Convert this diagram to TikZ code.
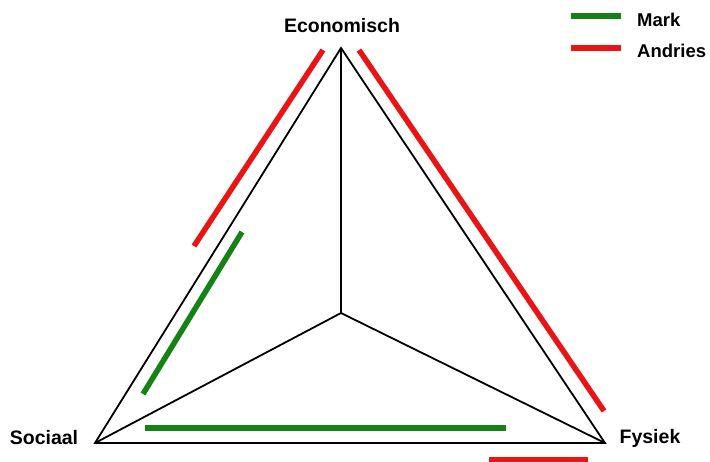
\documentclass[tikz,border=0pt]{standalone}
\usepackage{fontspec}
\setmainfont{Liberation Sans}
\definecolor{verde}{RGB}{20,130,20}
\definecolor{rojo}{RGB}{235,20,20}
\usepackage{tikz}
\usetikzlibrary{positioning}

\begin{document}
\begin{tikzpicture}[
  x=1pt, y=-1pt,
  every node/.style={font=\bfseries\fontsize{19.5}{23}\selectfont, inner sep=0pt},
  lado/.style={draw=black, line width=1.8pt},
  marca/.style={line width=5.5pt},
  leyenda/.style={font=\bfseries\fontsize{18.5}{22}\selectfont, anchor=base west}
]
  \useasboundingbox (0,0) rectangle (710,461);

  %% ── Vértices ──────────────────────────────────────────────
  \coordinate (E) at (341,48);
  \coordinate (S) at (95,443);
  \coordinate (F) at (605,443);
  \coordinate (C) at (341,313);

  %% ── Etiquetas ─────────────────────────────────────────────
  \node[anchor=base](econ) at (342,32) {Economisch};
  \node[anchor=base](soc) at (44,444) {Sociaal};
  \node[anchor=base](fys) at (650,443) {Fysiek};

  %% ── Triángulo ─────────────────────────────────────────────
  \draw[lado] (E) -- (S) -- (F) -- cycle;
  \draw[lado] (C) -- (E);
  \draw[lado] (C) -- (S);
  \draw[lado] (C) -- (F);

  %% ── Mark (verde) ──────────────────────────────────────────
  \coordinate (m1a) at (143,394);
  \coordinate (m1b) at (242,232);
  \coordinate (m2a) at (145,428);
  \coordinate (m2b) at (506,428);
  \draw[marca, verde] (m1a) -- (m1b);
  \draw[marca, verde] (m2a) -- (m2b);

  %% ── Andries (rojo) ────────────────────────────────────────
  \coordinate (a1a) at (194,246);
  \coordinate (a1b) at (323,50);
  \coordinate (a2a) at (359,50);
  \coordinate (a2b) at (604,411);
  \coordinate (a3a) at (489,460);
  \coordinate (a3b) at (588,460);
  \draw[marca, rojo] (a1a) -- (a1b);
  \draw[marca, rojo] (a2a) -- (a2b);
  \draw[marca, rojo] (a3a) -- (a3b);

  %% ── Leyenda ───────────────────────────────────────────────
  \coordinate (lv1) at (571,16);
  \coordinate (lv2) at (621,16);
  \coordinate (lr1) at (571,48);
  \coordinate (lr2) at (621,48);
  \draw[marca, verde] (lv1) -- (lv2);
  \draw[marca, rojo] (lr1) -- (lr2);
  \node[leyenda](mark) at (637,26) {Mark};
  \node[leyenda](andries) at (637,57) {Andries};

\end{tikzpicture}
\end{document}
